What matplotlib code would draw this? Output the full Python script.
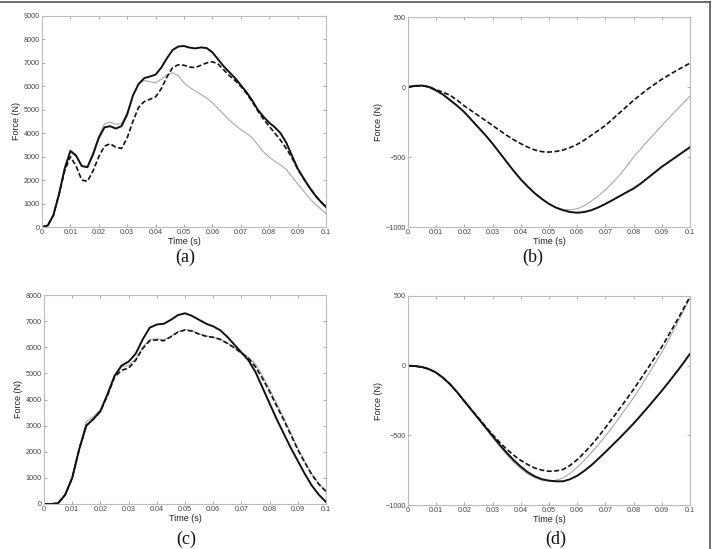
import numpy as np
import matplotlib.pyplot as plt
from matplotlib.lines import Line2D

# ---- data ----
# (a)
t_a = [0.000, 0.002, 0.004, 0.006, 0.008, 0.010, 0.012, 0.014, 0.016, 0.018,
       0.020, 0.022, 0.024, 0.026, 0.028, 0.030, 0.032, 0.034, 0.036, 0.038,
       0.040, 0.042, 0.044, 0.046, 0.048, 0.050, 0.052, 0.054, 0.056, 0.058,
       0.060, 0.062, 0.064, 0.066, 0.068, 0.070, 0.072, 0.074, 0.076, 0.078,
       0.080, 0.082, 0.084, 0.086, 0.088, 0.090, 0.092, 0.094, 0.096, 0.098, 0.100]
solid_a = [0, 60, 500, 1400, 2500, 3250, 3050, 2600, 2550, 3100,
           3800, 4250, 4300, 4200, 4300, 4800, 5600, 6100, 6350, 6420,
           6500, 6800, 7200, 7550, 7700, 7720, 7650, 7620, 7660, 7630,
           7450, 7150, 6850, 6600, 6350, 6050, 5750, 5400, 5000, 4700,
           4450, 4250, 4000, 3600, 3050, 2500, 2100, 1720, 1380, 1100, 850]
dashed_a = [0, 60, 500, 1400, 2400, 3000, 2600, 2000, 1950, 2400,
            3000, 3450, 3550, 3400, 3350, 3800, 4500, 5100, 5350, 5450,
            5550, 5900, 6400, 6800, 6920, 6900, 6820, 6800, 6900, 7000,
            7050, 6950, 6700, 6450, 6250, 6000, 5700, 5350, 4950, 4600,
            4300, 4000, 3700, 3350, 2950, 2480, 2080, 1720, 1380, 1100, 850]
grey_a = [0, 60, 500, 1400, 2500, 3200, 3000, 2600, 2600, 3200,
          3900, 4400, 4480, 4380, 4400, 4900, 5600, 6100, 6250, 6200,
          6150, 6300, 6500, 6580, 6450, 6150, 5950, 5800, 5650, 5500,
          5300, 5050, 4800, 4550, 4350, 4150, 4000, 3800, 3500, 3200,
          2980, 2800, 2650, 2450, 2150, 1850, 1550, 1250, 1000, 780, 580]

# shared time grid for (b), (c), (d)
t_q = [0.0000, 0.0025, 0.0050, 0.0075, 0.0100, 0.0125, 0.0150, 0.0175, 0.0200, 0.0225,
       0.0250, 0.0275, 0.0300, 0.0325, 0.0350, 0.0375, 0.0400, 0.0425, 0.0450, 0.0475,
       0.0500, 0.0525, 0.0550, 0.0575, 0.0600, 0.0625, 0.0650, 0.0675, 0.0700, 0.0725,
       0.0750, 0.0775, 0.0800, 0.0825, 0.0850, 0.0875, 0.0900, 0.0925, 0.0950, 0.0975, 0.1000]

# (b)
solid_b = [0, 8, 10, 0, -25, -55, -95, -135, -180, -235,
           -290, -345, -405, -470, -535, -600, -660, -712, -760, -800,
           -835, -862, -880, -893, -898, -893, -880, -860, -835, -808,
           -780, -752, -725, -690, -650, -610, -570, -535, -500, -465, -430]
dashed_b = [0, 8, 10, 2, -20, -38, -60, -95, -135, -170,
            -205, -240, -275, -310, -345, -377, -405, -430, -450, -462,
            -465, -460, -450, -432, -410, -380, -345, -310, -275, -230,
            -185, -140, -95, -55, -15, 20, 55, 85, 115, 143, 170]
grey_b = [0, 8, 10, 0, -25, -55, -95, -135, -180, -235,
          -290, -345, -405, -470, -535, -600, -660, -712, -760, -800,
          -835, -860, -875, -877, -870, -848, -815, -778, -735, -685,
          -630, -567, -500, -442, -385, -330, -275, -222, -170, -117, -65]

# (c)
solid_c = [0, 0, 30, 350, 1000, 2100, 3000, 3250, 3550, 4200,
           4900, 5300, 5450, 5750, 6300, 6750, 6870, 6900, 7050, 7230,
           7300, 7200, 7050, 6900, 6800, 6650, 6400, 6100, 5800, 5500,
           5050, 4450, 3850, 3250, 2700, 2150, 1650, 1150, 700, 350, 80]
dashed_c = [0, 0, 30, 350, 1000, 2100, 3000, 3250, 3550, 4150,
            4850, 5120, 5200, 5500, 5950, 6250, 6280, 6250, 6400, 6580,
            6660, 6620, 6500, 6420, 6380, 6300, 6150, 5980, 5780, 5580,
            5250, 4800, 4300, 3750, 3220, 2650, 2080, 1580, 1120, 750, 480]
grey_c = [0, 0, 30, 350, 1000, 2150, 3150, 3350, 3600, 4200,
          4900, 5250, 5300, 5550, 6000, 6300, 6320, 6280, 6420, 6600,
          6680, 6630, 6510, 6430, 6390, 6310, 6160, 5990, 5800, 5620,
          5350, 4900, 4400, 3850, 3300, 2720, 2150, 1620, 1150, 780, 500]

# (d)
solid_d = [0, -3, -10, -25, -50, -88, -135, -192, -255, -318,
           -380, -443, -505, -567, -625, -678, -725, -765, -795, -815,
           -825, -830, -830, -815, -790, -755, -715, -668, -620, -570,
           -520, -468, -415, -358, -300, -240, -180, -117, -52, 15, 85]
dashed_d = [0, -3, -10, -25, -50, -88, -135, -192, -255, -316,
            -375, -436, -495, -550, -600, -643, -680, -710, -735, -750,
            -758, -755, -745, -715, -675, -625, -570, -510, -445, -378,
            -310, -240, -170, -95, -20, 57, 135, 222, 310, 402, 495]
grey_d = [0, -3, -10, -25, -50, -88, -135, -193, -258, -322,
          -385, -450, -515, -580, -640, -693, -740, -778, -805, -822,
          -830, -822, -805, -772, -730, -680, -625, -567, -505, -440,
          -370, -300, -230, -152, -70, 12, 95, 190, 285, 385, 485]

x_ticks = [0, 0.01, 0.02, 0.03, 0.04, 0.05, 0.06, 0.07, 0.08, 0.09, 0.1]
x_labels = ['0', '0.01', '0.02', '0.03', '0.04', '0.05', '0.06', '0.07', '0.08', '0.09', '0.1']

panels = [
    # rect, t, solid, dashed, grey, yticks, caption, caption pos
    ([42/715, 1-227/549, 284/715, 211/549], t_a, solid_a, dashed_a, grey_a,
     list(range(0, 9001, 1000)), '(a)', (185/715, 1-257/549)),
    ([408/715, 1-227/549, 282/715, 210/549], t_q, solid_b, dashed_b, grey_b,
     [-1000, -500, 0, 500], '(b)', (533/715, 1-257/549)),
    ([44/715, 1-504/549, 282/715, 209/549], t_q, solid_c, dashed_c, grey_c,
     list(range(0, 8001, 1000)), '(c)', (186/715, 1-539/549)),
    ([408/715, 1-505/549, 282/715, 209/549], t_q, solid_d, dashed_d, grey_d,
     [-1000, -500, 0, 500], '(d)', (556/715, 1-539/549)),
]

fig = plt.figure(figsize=(7.15, 5.49), dpi=100)

for rect, t, s, d, g, yt, cap, cpos in panels:
    ax = fig.add_axes(rect)
    ax.plot(t, g, color='#a8a8a8', lw=0.8)
    ax.plot(t, d, color='#111111', lw=1.2, ls=(0, (3, 1.5)))
    ax.plot(t, s, color='#111111', lw=1.4)
    ax.set_xlim(0, 0.1)
    ax.set_ylim(yt[0], yt[-1])
    ax.set_xticks(x_ticks)
    ax.set_xticklabels(x_labels)
    ax.set_yticks(yt)
    ax.tick_params(direction='in', length=2.5, width=0.6, color='#999999',
                   labelsize=5.2, labelcolor='#444444', pad=1.5,
                   top=True, right=True, labelfontfamily='Liberation Sans')
    for sp in ax.spines.values():
        sp.set_color('#bbbbbb')
        sp.set_linewidth(0.8)
    ax.set_xlabel('Time (s)', fontsize=6.5, family='Liberation Sans', color='#222222', labelpad=0.5)
    ax.set_ylabel('Force (N)', fontsize=6.5, family='Liberation Sans', color='#222222', labelpad=2)
    fig.text(cpos[0], cpos[1], cap, ha='center', va='center', fontsize=13,
             family='Liberation Serif', color='#111111')

# frame lines at top and right edge
fig.add_artist(Line2D([0, 710/715], [1-2/549, 1-2/549], color='#444444', lw=1.1))
fig.add_artist(Line2D([710/715, 710/715], [0, 1-2/549], color='#444444', lw=1.1))

fig.savefig('out.png', dpi=100)
